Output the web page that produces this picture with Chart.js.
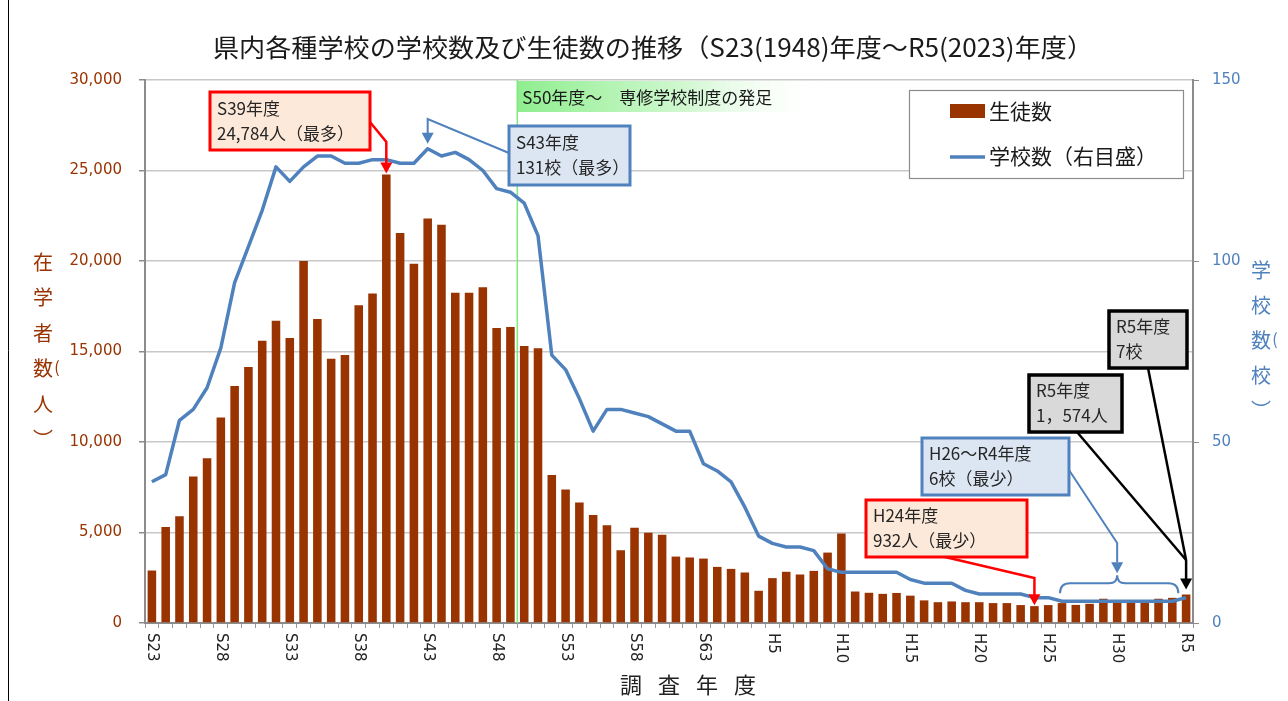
<!DOCTYPE html>
<html lang="ja">
<head>
<meta charset="utf-8">
<script src="https://cdn.jsdelivr.net/npm/chart.js@4.4.0/dist/chart.umd.min.js"></script>
<style>
  html, body { margin: 0; padding: 0; background: #fff; }
</style>
</head>
<body>
<canvas id="schoolChart" width="1288" height="701"></canvas>
<script>
// 調査年度
var years = [
  'S23','S24','S25','S26','S27','S28','S29','S30','S31','S32',
  'S33','S34','S35','S36','S37','S38','S39','S40','S41','S42',
  'S43','S44','S45','S46','S47','S48','S49','S50','S51','S52',
  'S53','S54','S55','S56','S57','S58','S59','S60','S61','S62',
  'S63','H1','H2','H3','H4','H5','H6','H7','H8','H9',
  'H10','H11','H12','H13','H14','H15','H16','H17','H18','H19',
  'H20','H21','H22','H23','H24','H25','H26','H27','H28','H29',
  'H30','R1','R2','R3','R4','R5'
];
// 生徒数 (人)
var students = [
  2900, 5300, 5900, 8100, 9100, 11350, 13100, 14150, 15600, 16700,
  15750, 20000, 16800, 14600, 14800, 17550, 18200, 24784, 21550, 19850,
  22350, 22000, 18250, 18250, 18550, 16300, 16350, 15300, 15180, 8170,
  7380, 6660, 5960, 5400, 4020, 5260, 4990, 4870, 3670, 3620,
  3560, 3100, 2990, 2790, 1780, 2480, 2830, 2680, 2880, 3890,
  4950, 1740, 1670, 1610, 1660, 1510, 1250, 1150, 1190, 1150,
  1150, 1100, 1100, 990, 932, 990, 1100, 1000, 1060, 1340,
  1250, 1250, 1250, 1340, 1390, 1574
];
// 学校数 (校)
var schools = [
  39, 41, 56, 59, 65, 76, 94, 104, 114, 126,
  122, 126, 129, 129, 127, 127, 128, 128, 127, 127,
  131, 129, 130, 128, 125, 120, 119, 116, 107, 74,
  70, 62, 53, 59, 59, 58, 57, 55, 53, 53,
  44, 42, 39, 32, 24, 22, 21, 21, 20, 15,
  14, 14, 14, 14, 14, 12, 11, 11, 11, 9,
  8, 8, 8, 8, 7, 7, 6, 6, 6, 6,
  6, 6, 6, 6, 6, 7
];
// 横軸に表示する年度
var shownYears = ['S23','S28','S33','S38','S43','S48','S53','S58','S63','H5','H10','H15','H20','H25','H30','R5'];

var JP = '"Noto Sans CJK JP", sans-serif';

function drawBox(c, x, y, w, h, fill, stroke, lw, lines) {
  c.save();
  c.fillStyle = fill;
  c.fillRect(x, y, w, h);
  c.lineWidth = lw;
  c.strokeStyle = stroke;
  c.strokeRect(x, y, w, h);
  c.fillStyle = '#262626';
  c.font = '17px ' + JP;
  c.textAlign = 'left';
  c.textBaseline = 'middle';
  lines.forEach(function(t, k) {
    c.fillText(t, x + 7, y + h / 2 + (k - (lines.length - 1) / 2) * 25);
  });
  c.restore();
}

function polyline(c, pts, color, lw) {
  c.save();
  c.strokeStyle = color;
  c.lineWidth = lw;
  c.lineJoin = 'miter';
  c.beginPath();
  c.moveTo(pts[0][0], pts[0][1]);
  for (var i = 1; i < pts.length; i++) c.lineTo(pts[i][0], pts[i][1]);
  c.stroke();
  c.restore();
}

function arrowDown(c, x, tipY, color) {
  c.save();
  c.fillStyle = color;
  c.beginPath();
  c.moveTo(x - 6, tipY - 11);
  c.lineTo(x + 6, tipY - 11);
  c.lineTo(x, tipY);
  c.closePath();
  c.fill();
  c.restore();
}

var decorations = {
  id: 'decorations',
  beforeDatasetsDraw: function(chart) {
    var c = chart.ctx, area = chart.chartArea, xs = chart.scales.x;
    var xLine = (xs.getPixelForValue(years.indexOf('S49')) + xs.getPixelForValue(years.indexOf('S50'))) / 2;
    c.save();
    // 専修学校制度の発足 ラベル
    var g = c.createLinearGradient(xLine, 0, xLine + 310, 0);
    g.addColorStop(0, '#8fee8f');
    g.addColorStop(0.55, '#d2f8d2');
    g.addColorStop(1, 'rgba(255,255,255,0)');
    c.fillStyle = g;
    c.fillRect(xLine, area.top + 1, 310, 31);
    c.strokeStyle = '#7ee87e';
    c.lineWidth = 1.5;
    c.beginPath();
    c.moveTo(xLine, area.top);
    c.lineTo(xLine, area.bottom);
    c.stroke();
    c.fillStyle = '#1a1a1a';
    c.font = '17px ' + JP;
    c.textBaseline = 'middle';
    c.fillText('S50年度～　専修学校制度の発足', xLine + 5, area.top + 18);
    c.restore();
  },
  afterDraw: function(chart) {
    var c = chart.ctx, area = chart.chartArea;
    var xs = chart.scales.x, ys = chart.scales.y, y1 = chart.scales.y1;
    c.save();

    // タイトル
    var title = '県内各種学校の学校数及び生徒数の推移（S23(1948)年度～R5(2023)年度）';
    c.font = '25px ' + JP;
    c.fillStyle = '#1a1a1a';
    c.textBaseline = 'middle';
    c.textAlign = 'left';
    var tw = c.measureText(title).width;
    c.save();
    c.translate(213, 47);
    c.scale(880 / tw, 1);
    c.fillText(title, 0, 0);
    c.restore();

    // 横軸ラベル (縦書き)
    c.font = '15px "DejaVu Sans", sans-serif';
    c.fillStyle = '#222';
    years.forEach(function(yr, i) {
      if (shownYears.indexOf(yr) < 0) return;
      c.save();
      c.translate(xs.getPixelForValue(i), area.bottom + 10);
      c.rotate(Math.PI / 2);
      c.textAlign = 'left';
      c.textBaseline = 'middle';
      c.fillText(yr, 0, 0);
      c.restore();
    });

    // 横軸タイトル
    c.font = '22px ' + JP;
    c.textAlign = 'center';
    ['調', '査', '年', '度'].forEach(function(ch, k) {
      c.fillText(ch, 631 + k * 38, 685);
    });

    // 縦軸タイトル
    c.font = '20px ' + JP;
    c.fillStyle = '#993300';
    ['在', '学', '者', '数', '人', '︶'].forEach(function(ch, k) {
      c.fillText(ch, 43, 262 + k * 35.5);
    });
    c.font = '16px ' + JP;
    c.fillText('(', 57, 367);
    c.font = '20px ' + JP;
    c.fillStyle = '#4f81bd';
    ['学', '校', '数', '校', '︶'].forEach(function(ch, k) {
      c.fillText(ch, 1261, 270 + k * 35);
    });
    c.font = '16px ' + JP;
    c.fillText('(', 1275, 339);

    // 凡例
    c.fillStyle = '#fff';
    c.fillRect(909, 90, 274, 88);
    c.strokeStyle = '#8c8c8c';
    c.lineWidth = 1.2;
    c.strokeRect(909.5, 90.5, 274, 88);
    c.fillStyle = '#993300';
    c.fillRect(950, 104, 35, 14);
    c.strokeStyle = '#4f81bd';
    c.lineWidth = 3.5;
    c.beginPath();
    c.moveTo(950, 157);
    c.lineTo(985, 157);
    c.stroke();
    c.fillStyle = '#1a1a1a';
    c.font = '21px ' + JP;
    c.textAlign = 'left';
    c.fillText('生徒数', 989, 111);
    c.fillText('学校数（右目盛）', 989, 156);

    // 注記: 生徒数最多
    var iMax = students.indexOf(Math.max.apply(null, students));
    var xMax = xs.getPixelForValue(iMax), yMax = ys.getPixelForValue(students[iMax]);
    polyline(c, [[370, 122], [xMax, 142], [xMax, yMax - 10]], '#ff0000', 2.5);
    arrowDown(c, xMax, yMax - 1, '#ff0000');
    drawBox(c, 210, 92, 160, 58, '#fde9d9', '#ff0000', 3, ['S39年度', '24,784人（最多）']);

    // 注記: 学校数最多
    var iS = schools.indexOf(Math.max.apply(null, schools));
    var xS = xs.getPixelForValue(iS), yS = y1.getPixelForValue(schools[iS]);
    polyline(c, [[509, 153], [xS, 119], [xS, yS - 14]], '#4f81bd', 2);
    arrowDown(c, xS, yS - 5, '#4f81bd');
    drawBox(c, 509, 126, 121, 59, '#dce6f2', '#4f81bd', 3, ['S43年度', '131校（最多）']);

    // 注記: 生徒数最少
    var iMin = years.indexOf('H24');
    var xMin = xs.getPixelForValue(iMin), yMin = ys.getPixelForValue(students[iMin]);
    polyline(c, [[945, 557], [xMin, 578], [xMin, yMin - 10]], '#ff0000', 2.5);
    arrowDown(c, xMin, yMin - 1, '#ff0000');
    drawBox(c, 866, 500, 161, 57, '#fde9d9', '#ff0000', 3, ['H24年度', '932人（最少）']);

    // 注記: 学校数最少 (H26～R4)
    var xa = xs.getPixelForValue(years.indexOf('H26')), xb = xs.getPixelForValue(years.indexOf('R4'));
    var xc = (xa + xb) / 2, yb = y1.getPixelForValue(6);
    polyline(c, [[1069, 470], [xc, 543], [xc, yb - 39]], '#4f81bd', 2);
    arrowDown(c, xc, yb - 28, '#4f81bd');
    c.strokeStyle = '#4f81bd';
    c.lineWidth = 2;
    c.beginPath();
    c.moveTo(xa - 2, yb - 8);
    c.quadraticCurveTo(xa - 2, yb - 18, xa + 8, yb - 18);
    c.lineTo(xc - 8, yb - 18);
    c.quadraticCurveTo(xc, yb - 18, xc, yb - 26);
    c.quadraticCurveTo(xc, yb - 18, xc + 8, yb - 18);
    c.lineTo(xb - 4, yb - 18);
    c.quadraticCurveTo(xb + 6, yb - 18, xb + 6, yb - 8);
    c.stroke();
    drawBox(c, 922, 438, 147, 57, '#dce6f2', '#4f81bd', 3, ['H26～R4年度', '6校（最少）']);

    // 注記: R5年度
    var iL = years.length - 1;
    var xL = xs.getPixelForValue(iL), yL = ys.getPixelForValue(students[iL]);
    polyline(c, [[1077, 432], [xL, 560]], '#000', 2.5);
    polyline(c, [[1148, 368], [xL, 560]], '#000', 2.5);
    polyline(c, [[xL, 560], [xL, yL - 14]], '#000', 2.5);
    arrowDown(c, xL, yL - 5, '#000');
    drawBox(c, 1029, 375, 93, 57, '#d9d9d9', '#000', 3.5, ['R5年度', '1，574人']);
    drawBox(c, 1109, 311, 78, 57, '#d9d9d9', '#000', 3.5, ['R5年度', '7校']);

    // 枠線
    c.strokeStyle = '#000';
    c.lineWidth = 1;
    c.beginPath();
    c.moveTo(8.5, 0);
    c.lineTo(8.5, 701);
    c.stroke();
    c.restore();
  }
};

var ctx = document.getElementById('schoolChart').getContext('2d');
var schoolChart = new Chart(ctx, {
  type: 'bar',
  data: {
    labels: years,
    datasets: [{
      type: 'line',
      label: '学校数(右目盛)',
      data: schools,
      yAxisID: 'y1',
      borderColor: '#4f81bd',
      borderWidth: 3.5,
      borderJoinStyle: 'round',
      pointRadius: 0,
      tension: 0,
      order: 0
    }, {
      type: 'bar',
      label: '生徒数',
      data: students,
      yAxisID: 'y',
      backgroundColor: '#993300',
      categoryPercentage: 0.62,
      barPercentage: 1,
      order: 1
    }]
  },
  options: {
    responsive: false,
    animation: false,
    layout: { padding: { top: 80, left: 0, right: 0, bottom: 0 } },
    plugins: {
      legend: { display: false },
      tooltip: { enabled: false },
      title: { display: false }
    },
    scales: {
      x: {
        grid: { display: true, drawOnChartArea: false, drawTicks: true, tickLength: 5, color: '#999', offset: true },
        border: { color: '#8c8c8c', width: 2 },
        ticks: { display: false, autoSkip: false },
        afterFit: function(s) { s.height = 78; }
      },
      y: {
        position: 'left',
        min: 0,
        max: 30000,
        ticks: {
          stepSize: 5000,
          color: '#993300',
          padding: 17,
          font: { family: 'DejaVu Sans', size: 15 },
          callback: function(v) { return v.toLocaleString('en-US'); }
        },
        grid: { color: '#c8c8c8', lineWidth: 1.5, tickLength: 6, tickColor: '#8c8c8c' },
        border: { color: '#8c8c8c', width: 2 },
        afterFit: function(s) { s.width = 145; }
      },
      y1: {
        position: 'right',
        min: 0,
        max: 150,
        ticks: {
          stepSize: 50,
          color: '#4f81bd',
          padding: 13,
          font: { family: 'DejaVu Sans', size: 15 }
        },
        grid: { drawOnChartArea: false, tickLength: 6, color: '#8c8c8c' },
        border: { color: '#8c8c8c', width: 2 },
        afterFit: function(s) { s.width = 95; }
      }
    }
  },
  plugins: [decorations]
});
</script>
</body>
</html>
